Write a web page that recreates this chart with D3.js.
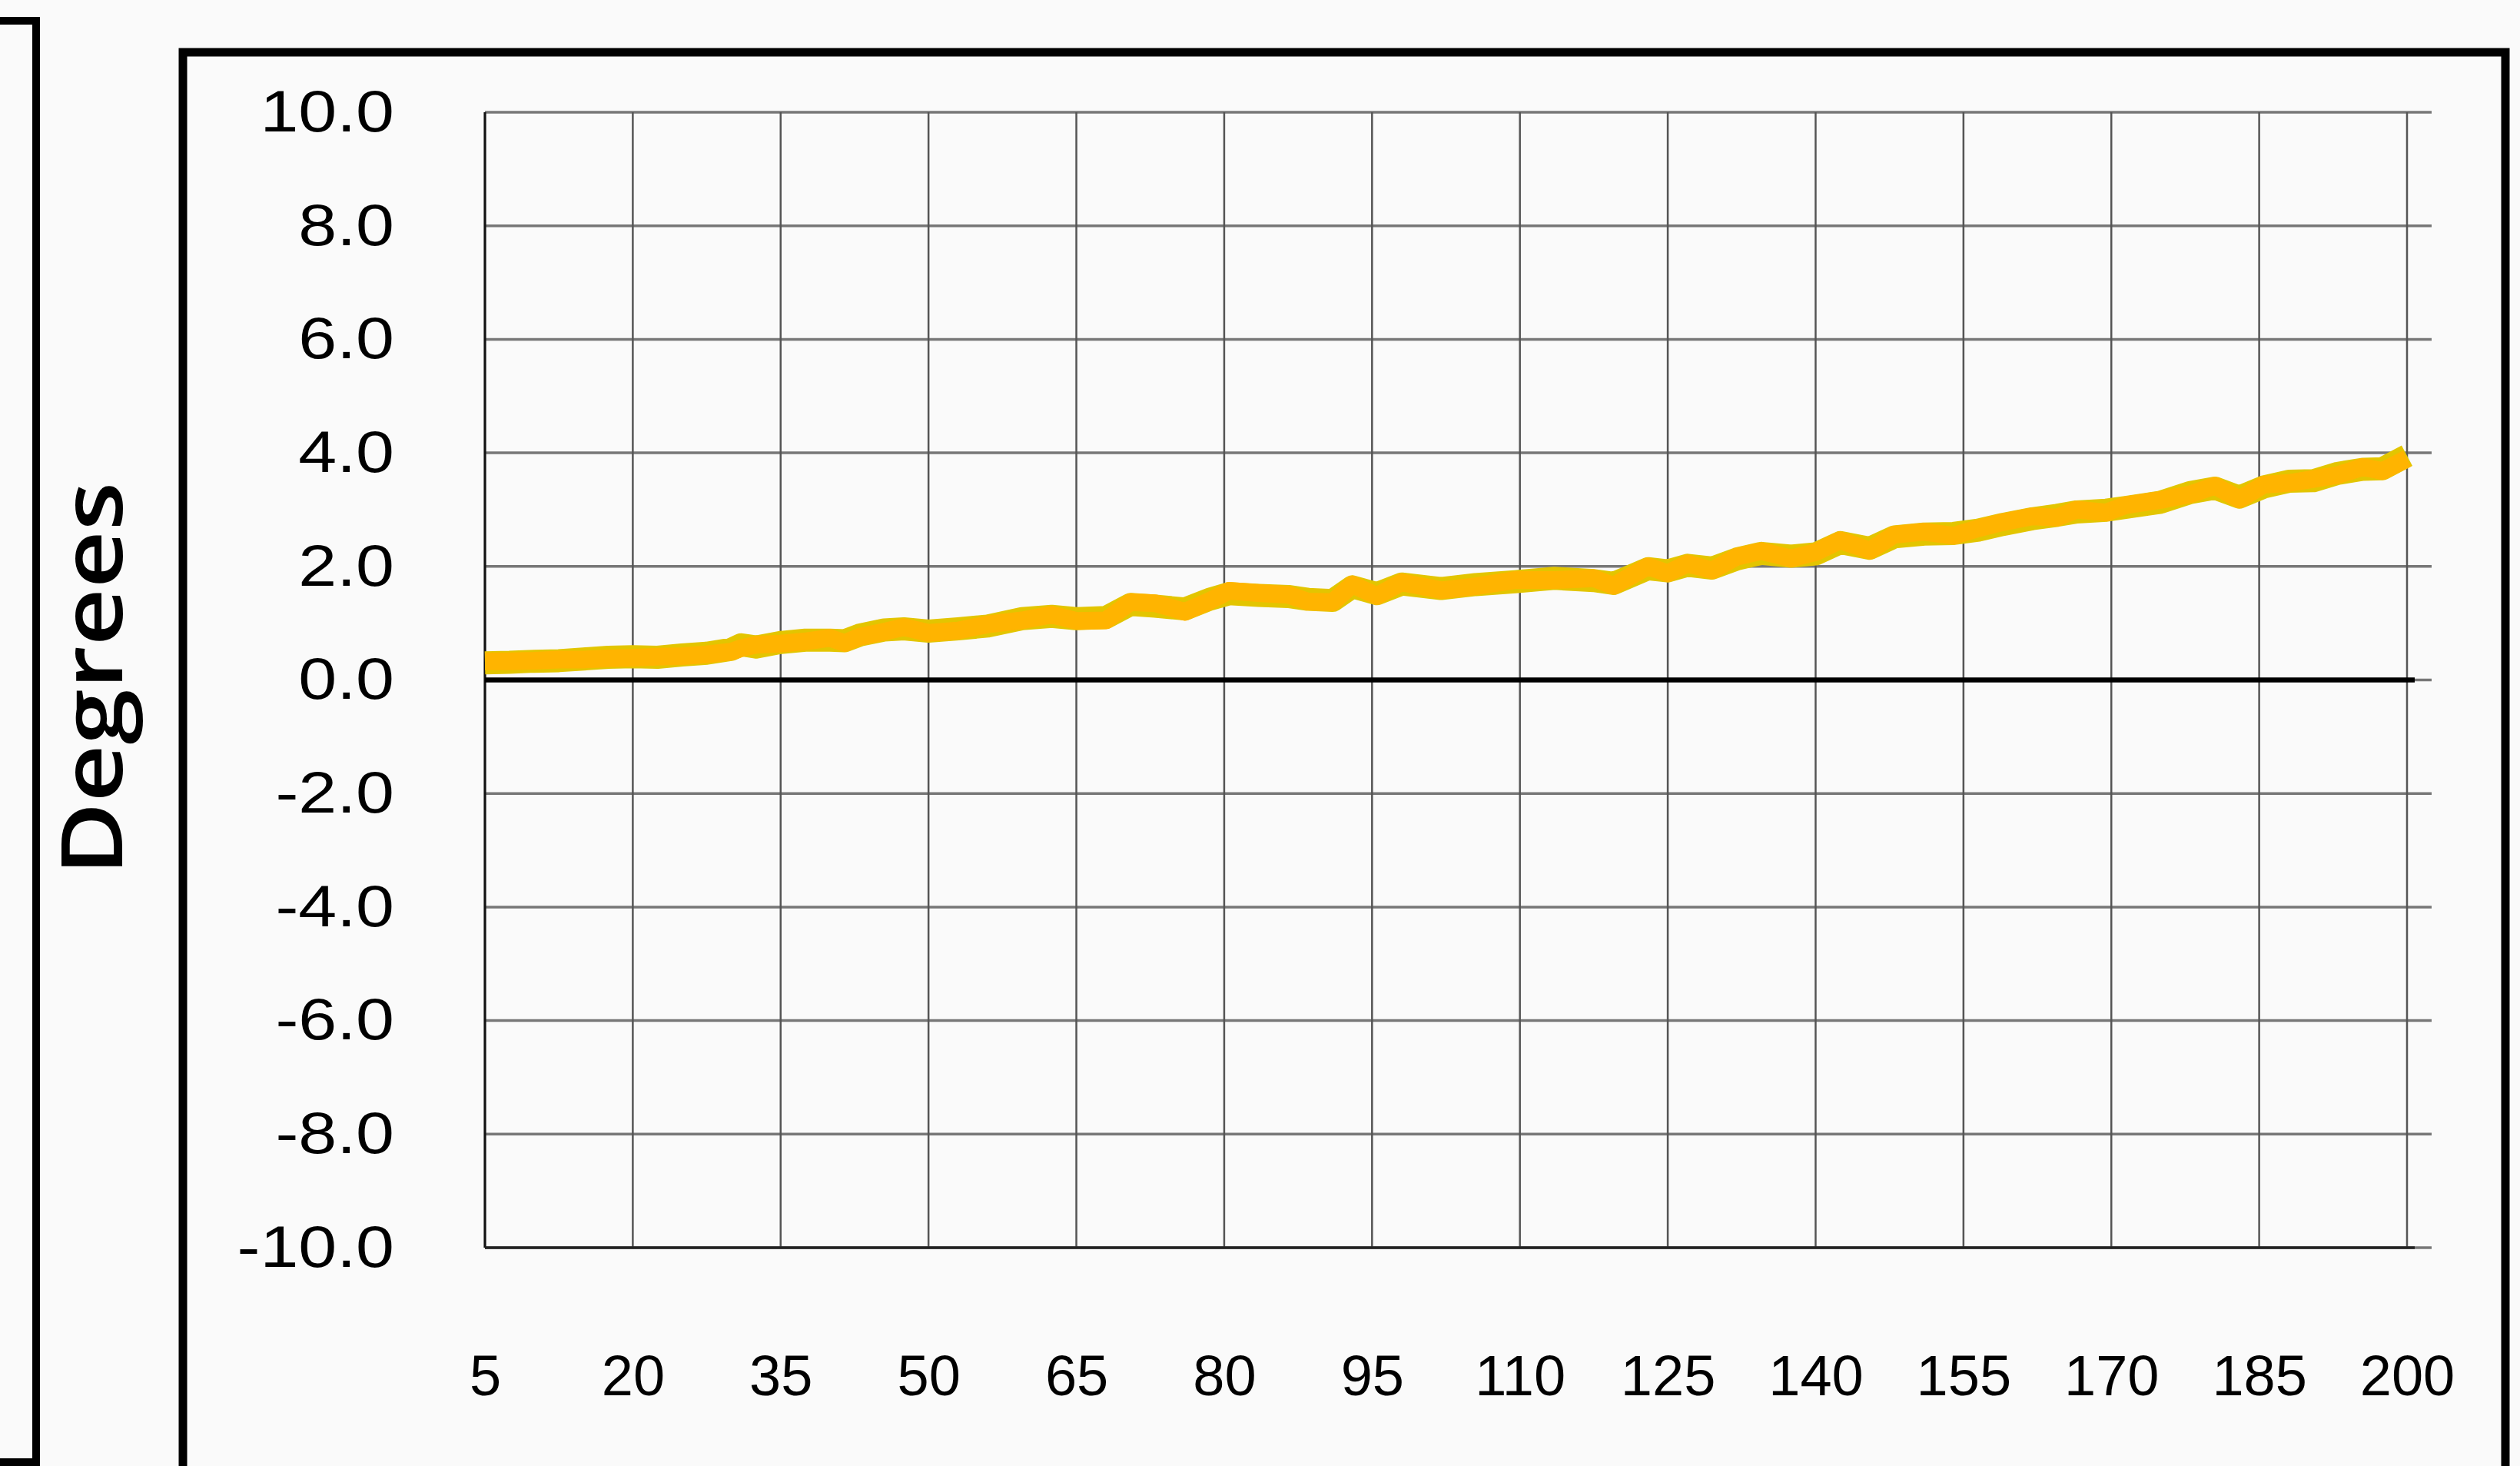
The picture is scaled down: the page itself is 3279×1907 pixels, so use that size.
<!DOCTYPE html>
<html>
<head>
<meta charset="utf-8">
<script src="https://cdn.jsdelivr.net/npm/d3@7"></script>
<style>
  html, body { margin: 0; padding: 0; background: #fafafa; }
  svg { display: block; }
</style>
</head>
<body>
<div id="chart"></div>
<script>
// x positions (run number) and the two overlapping traces
const runX = [5, 7.5, 10, 12.5, 15, 17.5, 20, 22.5, 25, 27.5, 30, 31, 32.5, 35, 37.5, 40, 41.5, 43, 45.5, 47.5,
    50, 53, 56, 59.5, 62.5, 65, 68, 70.5, 73, 76, 78.5, 80.5, 83.5, 86.5, 88.5, 91, 93, 95.5, 98, 102,
    105.5, 109.5, 113.5, 117.5, 119.5, 123, 125, 127, 129.5, 132, 134.5, 137.5, 140, 142.5, 145.5, 148, 151, 154, 156.5, 159,
    162, 164.5, 166.5, 169.5, 171.5, 175, 178, 180.5, 183, 185.5, 188, 190.5, 193, 195.5, 197.5, 200];
const orangeSeries = [0.33, 0.33, 0.34, 0.36, 0.36, 0.38, 0.39, 0.41, 0.42, 0.45, 0.50, 0.56, 0.62, 0.64, 0.68, 0.74, 0.65, 0.76, 0.85, 0.93,
    0.83, 0.87, 0.98, 1.05, 1.15, 1.04, 1.05, 1.37, 1.35, 1.20, 1.39, 1.57, 1.53, 1.50, 1.38, 1.37, 1.68, 1.48, 1.72, 1.58,
    1.65, 1.76, 1.76, 1.79, 1.66, 2.00, 1.88, 2.05, 1.93, 2.17, 2.27, 2.14, 2.25, 2.46, 2.28, 2.56, 2.61, 2.54, 2.67, 2.78,
    2.88, 2.86, 3.00, 2.95, 3.08, 3.17, 3.27, 3.42, 3.18, 3.44, 3.47, 3.54, 3.61, 3.75, 3.68, 3.90];
const yellowSeries = [0.30, 0.31, 0.33, 0.34, 0.37, 0.40, 0.41, 0.40, 0.44, 0.47, 0.54, 0.62, 0.58, 0.66, 0.70, 0.70, 0.69, 0.79, 0.88, 0.90,
    0.86, 0.90, 0.95, 1.08, 1.12, 1.08, 1.10, 1.33, 1.30, 1.25, 1.42, 1.52, 1.49, 1.47, 1.42, 1.40, 1.64, 1.52, 1.69, 1.61,
    1.68, 1.73, 1.79, 1.75, 1.70, 1.96, 1.92, 2.02, 1.97, 2.13, 2.23, 2.18, 2.22, 2.42, 2.32, 2.52, 2.57, 2.58, 2.64, 2.74,
    2.84, 2.90, 2.96, 2.99, 3.04, 3.13, 3.30, 3.38, 3.22, 3.40, 3.50, 3.51, 3.64, 3.71, 3.72, 3.95];
const xTicks = [5, 20, 35, 50, 65, 80, 95, 110, 125, 140, 155, 170, 185, 200];
const yTicks = [-10, -8, -6, -4, -2, 0, 2, 4, 6, 8, 10];
const yLabel = 'Degrees';

/**
 * Draws the degrees-per-run chart
 *
 * @class DegreesChart
 */
class DegreesChart {

    constructor(selector) {
        this.width = 3279;
        this.height = 1907;
        this.plot = {left: 631, right: 3132, top: 146, bottom: 1623};
        this.svg = d3.select(selector).append('svg')
            .attr('width', this.width)
            .attr('height', this.height);
        this.x = d3.scaleLinear().domain([5, 200]).range([this.plot.left, this.plot.right]);
        this.y = d3.scaleLinear().domain([-10, 10]).range([this.plot.bottom, this.plot.top]);
    }

    frames() {
        // panel on the left, mostly cut off
        this.svg.append('rect')
            .attr('x', -40).attr('y', 27)
            .attr('width', 87).attr('height', 1875)
            .attr('fill', 'none').attr('stroke', '#000').attr('stroke-width', 10);
        // main chart frame, bottom edge runs past the picture
        this.svg.append('rect')
            .attr('x', 238).attr('y', 68)
            .attr('width', 3022).attr('height', 1880)
            .attr('fill', 'none').attr('stroke', '#000').attr('stroke-width', 11);
    }

    grid() {
        const p = this.plot;
        const g = this.svg.append('g');

        g.selectAll('.hgrid').data(yTicks).join('line')
            .attr('x1', p.left).attr('x2', p.right + 32)
            .attr('y1', d => this.y(d)).attr('y2', d => this.y(d))
            .attr('stroke', '#777').attr('stroke-width', 3.5);

        g.selectAll('.vgrid').data(xTicks).join('line')
            .attr('x1', d => this.x(d)).attr('x2', d => this.x(d))
            .attr('y1', p.top).attr('y2', p.bottom)
            .attr('stroke', '#555').attr('stroke-width', 2.5);

        // left and bottom edges of the plot
        g.append('line')
            .attr('x1', p.left).attr('x2', p.left)
            .attr('y1', p.top).attr('y2', p.bottom)
            .attr('stroke', '#111').attr('stroke-width', 3);
        g.append('line')
            .attr('x1', p.left).attr('x2', p.right + 10)
            .attr('y1', p.bottom).attr('y2', p.bottom)
            .attr('stroke', '#222').attr('stroke-width', 3.5);
    }

    axes() {
        const font = '"Liberation Sans", Arial, sans-serif';
        const pad = this.plot.left - 513;

        const yAxis = d3.axisLeft(this.y)
            .tickValues(yTicks)
            .tickFormat(d => d.toFixed(1))
            .tickSize(0)
            .tickPadding(pad);
        const gy = this.svg.append('g')
            .attr('transform', `translate(${this.plot.left},0)`)
            .call(yAxis);
        gy.select('.domain').remove();
        // the value labels are drawn a little wider than the run labels
        gy.selectAll('text')
            .attr('x', 0)
            .attr('transform', `translate(${-pad},0) scale(1.18,1)`)
            .attr('font-family', font).attr('font-size', 76).attr('fill', '#000');

        const xAxis = d3.axisBottom(this.x)
            .tickValues(xTicks)
            .tickFormat(d3.format('d'))
            .tickSize(0)
            .tickPadding(139);
        const gx = this.svg.append('g')
            .attr('transform', `translate(0,${this.plot.bottom})`)
            .call(xAxis);
        gx.select('.domain').remove();
        gx.selectAll('text')
            .attr('font-family', font).attr('font-size', 74).attr('fill', '#000');

        // title of the value axis
        this.svg.append('text')
            .attr('transform', 'translate(159,883) rotate(-90)')
            .attr('text-anchor', 'middle')
            .attr('font-family', '"Open Sans", "Noto Sans", sans-serif')
            .attr('font-weight', 600)
            .attr('font-size', 110)
            .attr('textLength', 512)
            .attr('lengthAdjust', 'spacingAndGlyphs')
            .text(yLabel);
    }

    series() {
        const line = d3.line()
            .x(d => this.x(d[0]))
            .y(d => this.y(d[1]));

        this.svg.append('path')
            .datum(runX.map((v, i) => [v, yellowSeries[i]]))
            .attr('d', line)
            .attr('fill', 'none').attr('stroke', '#e3c500')
            .attr('stroke-width', 30).attr('stroke-linejoin', 'round');

        this.svg.append('path')
            .datum(runX.map((v, i) => [v, orangeSeries[i]]))
            .attr('d', line)
            .attr('fill', 'none').attr('stroke', '#ffb400')
            .attr('stroke-width', 23).attr('stroke-linejoin', 'round');

        // zero line sits on top of the data
        this.svg.append('line')
            .attr('x1', this.plot.left).attr('x2', this.plot.right + 10)
            .attr('y1', this.y(0)).attr('y2', this.y(0))
            .attr('stroke', '#000').attr('stroke-width', 6.5);
    }

    draw() {
        this.svg.append('rect')
            .attr('width', this.width).attr('height', this.height)
            .attr('fill', '#fafafa');
        this.frames();
        this.grid();
        this.series();
        this.axes();
    }
}

new DegreesChart('#chart').draw();
</script>
</body>
</html>
